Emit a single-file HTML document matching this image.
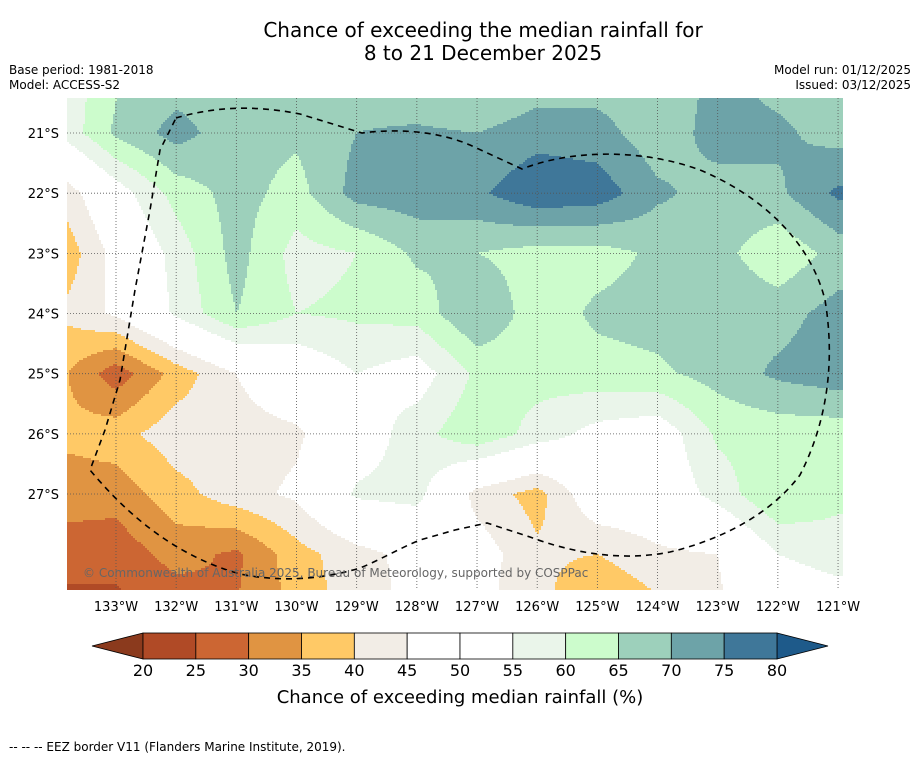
<!DOCTYPE html>
<html><head><meta charset="utf-8">
<style>
body{margin:0;background:#fff;font-family:"DejaVu Sans","Liberation Sans",sans-serif;}
#wrap{position:relative;width:919px;height:758px;overflow:hidden;background:#fff;}
.t{position:absolute;white-space:nowrap;color:#000;}
</style></head><body>
<div id="wrap">
<div class="t" style="left:0;width:966px;text-align:center;top:19px;font-size:20px;line-height:23px;">Chance of exceeding the median rainfall for<br>8 to 21 December 2025</div>
<div class="t" style="left:9px;top:63px;font-size:12px;line-height:15px;">Base period: 1981-2018<br>Model: ACCESS-S2</div>
<div class="t" style="right:8px;top:63px;font-size:12px;line-height:15px;text-align:right;">Model run: 01/12/2025<br>Issued: 03/12/2025</div>
<svg id="svg" width="919" height="758" style="position:absolute;left:0;top:0">
<defs><clipPath id="mapclip"><rect x="67" y="98" width="776" height="492"/></clipPath></defs>
<g id="field" clip-path="url(#mapclip)"></g>
<g id="grid"></g>
<path clip-path="url(#mapclip)" fill="none" stroke="#000" stroke-width="1.6" stroke-dasharray="6,5"
 d="M176,118 C210,108 250,104 300,114 L362,133 C400,128 440,132 470,145 L522,169 C570,150 640,148 700,170 C760,195 810,240 825,300 C835,360 828,420 800,475 C770,515 720,540 670,552 C620,562 570,552 530,537 L487,523 L455,530 L420,540 C400,548 380,560 360,568 C320,580 280,582 240,574 C190,560 140,530 90,470 L105,430 L120,380 L135,290 L150,210 L160,150 Z"/>
<text x="83" y="577" font-size="12" fill="#666" font-family="DejaVu Sans, sans-serif">© Commonwealth of Australia 2025, Bureau of Meteorology, supported by COSPPac</text>
<g id="colorbar"></g>
<text x="460" y="703" font-size="18" text-anchor="middle" font-family="DejaVu Sans, sans-serif">Chance of exceeding median rainfall (%)</text>
<text x="9" y="751" font-size="12" font-family="DejaVu Sans, sans-serif">-- -- -- EEZ border V11 (Flanders Marine Institute, 2019).</text>
</svg>
</div>
<script>
// grid longitudes (deg W) and latitudes (deg S)
const lons = [134,133,132,131,130,129,128,127,126,125,124,123,122,121,120];
const lats = [20,21,22,23,24,25,26,27,28,29];
const row20 = [55,64,67,67,67,67,64,62,66,67,67,71,68,67,67];
const row21 = [55,66,72,67,66,70,71,70,73,72,67,72,71,68,70];
const row22 = [40,52,62,67,63,72,73,74,79,78,71,68,69,76,76];
const row23 = [35,47,57,67,58,60,66,65,63,63,66,67,61,67,68];
const row24 = [40,46,56,65,60,61,62,70,62,66,67,69,68,72,72];
const row25 = [37,27,37,45,50,55,52,61,62,63,64,67,71,73,73];
const row26 = [36,38,43,43,44,51,58,64,58,53,51,61,62,62,62];
const row27 = [32,32,38,43,46,56,57,43,38,50,50,57,65,61,60];
const row28 = [28,27,32,29,38,43,47,48,41,40,44,45,55,58,58];
const row29 = [22,23,26,30,36,43,46,46,42,33,38,44,48,50,50];
const levels = [20,25,30,35,40,45,50,55,60,65,70,75,80];
const tickLons = [133,132,131,130,129,128,127,126,125,124,123,122,121];
const tickLats = [21,22,23,24,25,26,27];
const values = [row20,row21,row22,row23,row24,row25,row26,row27,row28,row29];
const colors = ["#8b3a1d","#b04a26","#cc6633","#e09442","#ffc966","#f2ede6","#ffffff","#ffffff","#eaf5ea","#ccfccc","#9dd0bb","#6da3a8","#3f7799","#1e5a8a"];

const NS = "http://www.w3.org/2000/svg";
const PX = 60.17;
const xOf = lon => 116 + (133 - lon) * PX;
const yOf = lat => 133 + (lat - 21) * PX;
const lonOf = x => 133 - (x - 116) / PX;
const latOf = y => 21 + (y - 133) / PX;

function sample(lon, lat) {
  let fi = (lons[0] - lon), fj = (lat - lats[0]);
  fi = Math.max(0, Math.min(lons.length - 1.001, fi));
  fj = Math.max(0, Math.min(lats.length - 1.001, fj));
  const i = Math.floor(fi), j = Math.floor(fj), a = fi - i, b = fj - j;
  const v00 = values[j][i], v10 = values[j][i+1], v01 = values[j+1][i], v11 = values[j+1][i+1];
  return v00*(1-a)*(1-b) + v10*a*(1-b) + v01*(1-a)*b + v11*a*b;
}
function classOf(v) {
  let k = 0;
  while (k < levels.length && v >= levels[k]) k++;
  return k;
}
const field = document.getElementById('field');
const step = 2;
for (let y = 98; y < 590; y += step) {
  let runStart = 67, runCls = -1;
  for (let x = 67; x <= 843; x += step) {
    const c = x < 843 ? classOf(sample(lonOf(x + step/2), latOf(y + step/2))) : -2;
    if (c !== runCls) {
      if (runCls >= 0) {
        const r = document.createElementNS(NS, 'rect');
        
        
        r.setAttribute('x', runStart); r.setAttribute('y', y);
        r.setAttribute('width', x - runStart + 0.5); r.setAttribute('height', step + 0.5);
        r.setAttribute('fill', colors[runCls]);
        field.appendChild(r);
      }
      runStart = x; runCls = c;
    }
  }
}
const grid = document.getElementById('grid');
tickLons.forEach(l => {
  const x = xOf(l);
  const ln = document.createElementNS(NS, 'line');
  
  
  ln.setAttribute('x1', x); ln.setAttribute('x2', x); ln.setAttribute('y1', 98); ln.setAttribute('y2', 590);
  ln.setAttribute('stroke', '#555'); ln.setAttribute('stroke-width', '0.8'); ln.setAttribute('stroke-dasharray', '1,2');
  grid.appendChild(ln);
  const t = document.createElementNS(NS, 'text');
  
  
  t.setAttribute('x', x); t.setAttribute('y', 611); t.setAttribute('font-size', '13');
  t.setAttribute('text-anchor', 'middle'); t.setAttribute('font-family', 'DejaVu Sans, sans-serif');
  t.textContent = l + '°W';
  grid.appendChild(t);
});
tickLats.forEach(l => {
  const y = yOf(l);
  const ln = document.createElementNS(NS, 'line');
  
  
  ln.setAttribute('x1', 67); ln.setAttribute('x2', 843); ln.setAttribute('y1', y); ln.setAttribute('y2', y);
  ln.setAttribute('stroke', '#555'); ln.setAttribute('stroke-width', '0.8'); ln.setAttribute('stroke-dasharray', '1,2');
  grid.appendChild(ln);
  const t = document.createElementNS(NS, 'text');
  
  
  t.setAttribute('x', 59); t.setAttribute('y', y + 5); t.setAttribute('font-size', '13');
  t.setAttribute('text-anchor', 'end'); t.setAttribute('font-family', 'DejaVu Sans, sans-serif');
  t.textContent = l + '°S';
  grid.appendChild(t);
});
// colorbar
const cb = document.getElementById('colorbar');
const cbX = v => 143 + (v - 20) * (634 / 60);
const cy0 = 633, cy1 = 659;
const lt = document.createElementNS(NS, 'polygon');


lt.setAttribute('points', `${cbX(20)},${cy0} ${cbX(20)},${cy1} 92,646`);
lt.setAttribute('fill', colors[0]); lt.setAttribute('stroke', '#000'); lt.setAttribute('stroke-width', '0.8');
cb.appendChild(lt);
const rt = document.createElementNS(NS, 'polygon');


rt.setAttribute('points', `${cbX(80)},${cy0} ${cbX(80)},${cy1} 828,646`);
rt.setAttribute('fill', colors[13]); rt.setAttribute('stroke', '#000'); rt.setAttribute('stroke-width', '0.8');
cb.appendChild(rt);
for (let k = 0; k < levels.length - 1; k++) {
  const r = document.createElementNS(NS, 'rect');
  
  
  r.setAttribute('x', cbX(levels[k])); r.setAttribute('y', cy0);
  r.setAttribute('width', cbX(levels[k+1]) - cbX(levels[k])); r.setAttribute('height', cy1 - cy0);
  r.setAttribute('fill', colors[k+1]); r.setAttribute('stroke', '#000'); r.setAttribute('stroke-width', '0.8');
  cb.appendChild(r);
}
levels.forEach(v => {
  const t = document.createElementNS(NS, 'text');
  
  
  t.setAttribute('x', cbX(v)); t.setAttribute('y', 676); t.setAttribute('font-size', '16');
  t.setAttribute('text-anchor', 'middle'); t.setAttribute('font-family', 'DejaVu Sans, sans-serif');
  t.textContent = v;
  cb.appendChild(t);
});
</script>
</body></html>
